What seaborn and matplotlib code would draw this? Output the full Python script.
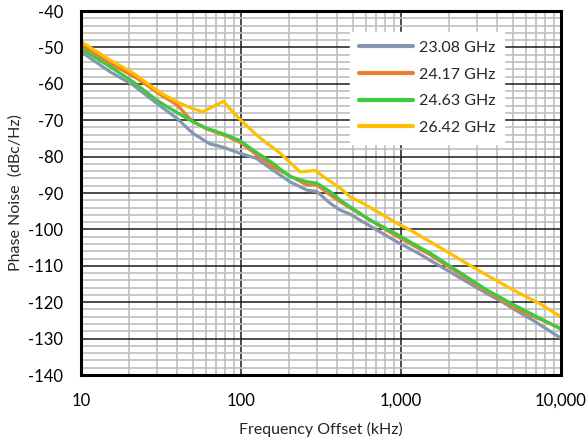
import numpy as np
import pandas as pd
import matplotlib
matplotlib.use("Agg")
import matplotlib.pyplot as plt
import seaborn as sns
from matplotlib.ticker import FixedLocator, MultipleLocator, FuncFormatter

# ---- data ----
series_names = ["23.08 GHz", "24.17 GHz", "24.63 GHz", "26.42 GHz"]

f_2308 = [10, 15.2, 21.1, 29.8, 39.8, 50, 63.9, 77, 98.6, 125, 158, 202, 258, 298,
          360, 416, 480, 577, 941, 1315, 1510, 2010, 3430, 4170, 5550, 6700, 10000]
v_2308 = [-51.2, -56.7, -60.3, -65.4, -69.5, -73.6, -76.5, -77.4, -79.1, -80.5, -83.7,
          -86.9, -89.2, -89.6, -92.8, -94.7, -95.8, -97.9, -103.4, -106.8, -108.4,
          -111.6, -117.6, -119.6, -122.9, -125.0, -129.9]

f_2417 = [10, 15.2, 22.4, 31.2, 39.8, 50, 61, 81.6, 98.6, 158, 258, 298, 360, 416,
          941, 1510, 2110, 3430, 5550, 10000]
v_2417 = [-49.3, -54.4, -58.5, -62.9, -65.8, -70.4, -72.4, -74.4, -76.1, -82.8, -87.8,
          -87.8, -90.5, -92.4, -101.9, -106.9, -111.0, -117.0, -122.3, -127.2]

f_2463 = [10, 15.2, 21.1, 29.8, 34.5, 50, 61, 81.6, 98.6, 119, 158, 202, 258, 298,
          360, 416, 480, 640, 941, 1315, 1510, 2110, 3430, 5010, 10000]
v_2463 = [-50.3, -55.3, -59.4, -64.5, -66.3, -70.4, -72.2, -74.1, -75.6, -78.2, -81.8,
          -85.5, -86.9, -87.3, -89.6, -91.9, -93.8, -97.4, -101.3, -105.0, -106.4,
          -110.6, -116.6, -120.6, -127.4]

f_2642 = [10, 15.2, 21.1, 31.2, 39.8, 50.4, 57.9, 68.7, 77.6, 85, 98.6, 119, 131, 175,
          234, 290, 345, 416, 480, 577, 736, 941, 1186, 1510, 2010, 2700, 3750, 5010,
          7360, 10000]
v_2642 = [-48.4, -53.5, -57.0, -62.4, -65.0, -66.9, -67.7, -66.0, -64.8, -66.8, -69.8,
          -73.2, -74.8, -79.0, -84.2, -83.8, -86.2, -88.6, -91.0, -92.8, -95.5, -98.3,
          -100.6, -103.3, -106.5, -109.9, -113.5, -116.6, -120.4, -124.0]

x_ticks = [10, 100, 1000, 10000]
x_tick_labels = ["10", "100", "1,000", "10,000"]
y_ticks = list(range(-140, -39, 10))

colors = ["#8497B0", "#ED7D31", "#3DCB3D", "#FFC000"]

frames = []
for name, f, v in zip(series_names, [f_2308, f_2417, f_2463, f_2642],
                      [v_2308, v_2417, v_2463, v_2642]):
    frames.append(pd.DataFrame({"Frequency": f, "Noise": v, "Series": name}))
df = pd.concat(frames, ignore_index=True)

sns.set_style("white")
plt.rcParams["font.family"] = ["Lato", "DejaVu Sans"]
plt.rcParams["axes.unicode_minus"] = False

fig = plt.figure(figsize=(5.87, 4.43), dpi=100)
ax = fig.add_axes([81 / 587, 1 - 375 / 443, 480 / 587, 364 / 443])

sns.lineplot(data=df, x="Frequency", y="Noise", hue="Series",
             hue_order=series_names, palette=dict(zip(series_names, colors)),
             linewidth=2.3, ax=ax, sort=True, estimator=None)

ax.set_xscale("log")
ax.set_xlim(10, 10000)
ax.set_ylim(-140, -40)

ax.xaxis.set_major_locator(FixedLocator(x_ticks))
ax.xaxis.set_major_formatter(FuncFormatter(
    lambda v, p: x_tick_labels[x_ticks.index(int(round(v)))] if int(round(v)) in x_ticks else ""))
minor_x = [m * 10 ** d for d in range(1, 4) for m in range(2, 10)]
ax.xaxis.set_minor_locator(FixedLocator(minor_x))
ax.xaxis.set_minor_formatter(FuncFormatter(lambda v, p: ""))
ax.yaxis.set_major_locator(FixedLocator(y_ticks))
ax.yaxis.set_major_formatter(FuncFormatter(lambda v, p: "%d" % v))
ax.yaxis.set_minor_locator(MultipleLocator(2))

ax.grid(which="minor", color="#BFBFBF", linewidth=1.2)
ax.grid(which="major", color="#1a1a1a", linewidth=1.1)
ax.set_axisbelow(True)

for s in ax.spines.values():
    s.set_visible(True)
    s.set_color("black")
    s.set_linewidth(2.2)

ax.tick_params(axis="both", which="both", length=0, labelsize=12, colors="black")
ax.tick_params(axis="x", pad=13)
ax.tick_params(axis="y", pad=13)

ax.set_xlabel("Frequency Offset (kHz)", fontsize=11.5, labelpad=9)
ax.set_ylabel("Phase Noise  (dBc/Hz)", fontsize=11.5, labelpad=4)

leg = ax.legend(loc="upper right", bbox_to_anchor=(0.882, 0.942), frameon=True,
                fontsize=11.5, handlelength=3.4, labelspacing=0.78,
                borderpad=0.55, handletextpad=0.35, borderaxespad=0)
leg.get_frame().set_facecolor("white")
leg.get_frame().set_edgecolor("white")
leg.get_frame().set_alpha(1)
leg.get_frame().set_boxstyle("square", pad=0)
for line in leg.get_lines():
    line.set_linewidth(3)

fig.savefig("out.png", dpi=100)
